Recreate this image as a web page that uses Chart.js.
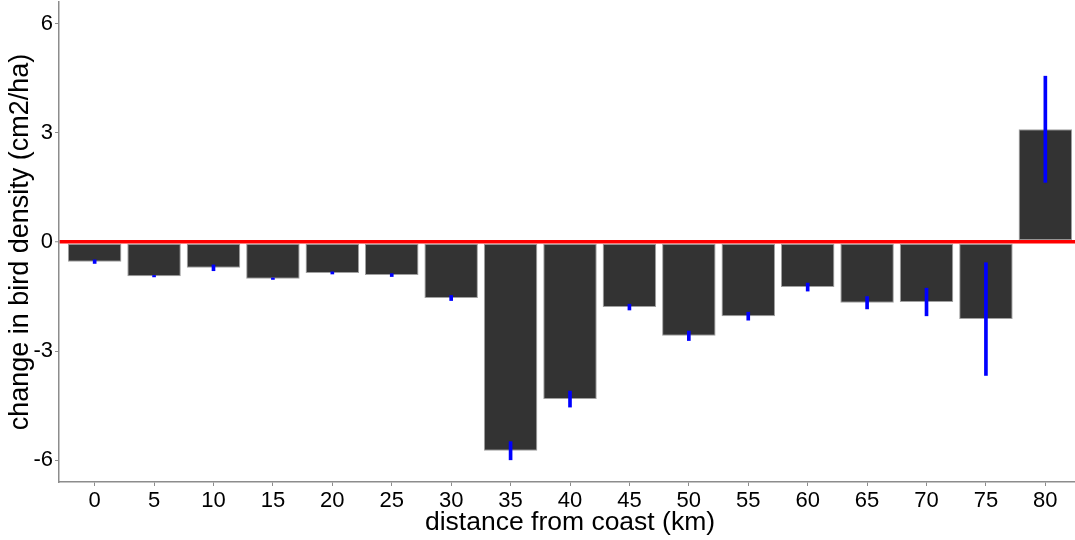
<!DOCTYPE html>
<html>
<head>
<meta charset="utf-8">
<script src="https://cdn.jsdelivr.net/npm/chart.js@4"></script>
<style>
  body { margin: 0; background: #fff; }
  #wrap { width: 1075px; height: 540px; overflow: hidden; }
</style>
</head>
<body>
<div id="wrap"><canvas id="birdChart" width="1081" height="540"></canvas></div>
<script>
// distance from coast (km) and mean change with its error
let distances = [0, 5, 10, 15, 20, 25, 30, 35, 40, 45, 50, 55, 60, 65, 70, 75, 80];
let change = [-0.54, -0.94, -0.71, -1.01, -0.85, -0.91, -1.54, -5.74, -4.32, -1.79, -2.58, -2.04, -1.24, -1.67, -1.65, -2.12, 3.10];
let errSize = [0.05, 0.02, 0.08, 0.02, 0.03, 0.04, 0.07, 0.25, 0.22, 0.08, 0.13, 0.11, 0.11, 0.17, 0.38, 1.55, 1.46];
let yTicks = [-6, -3, 0, 3, 6];

let barData = distances.map((d, i) => ({ x: d, y: change[i] }));
let errData = distances.map((d, i) => ({ x: d, y: [change[i] - errSize[i], change[i] + errSize[i]] }));

const ctx = document.getElementById("birdChart");

new Chart(ctx, {
  type: "bar",
  data: {
    datasets: [
      {
        label: "error",
        data: errData,
        backgroundColor: "#0000ff",
        barThickness: 3,
        grouped: false,
        order: 0,
      },
      {
        label: "change",
        data: barData,
        backgroundColor: "#333333",
        borderColor: "#a0a0a0",
        borderWidth: 1,
        borderSkipped: false,
        categoryPercentage: 1,
        barPercentage: 0.9,
        grouped: false,
        order: 1,
      },
    ],
  },
  options: {
    responsive: false,
    animation: false,
    devicePixelRatio: 1,
    layout: { padding: { top: 2 } },
    plugins: {
      legend: { display: false },
      tooltip: { enabled: false },
    },
    scales: {
      x: {
        type: "linear",
        offset: false,
        min: distances[0] - 3,
        max: distances[distances.length - 1] + 3,
        afterFit: (scale) => {
          scale.height = 58;
          scale.paddingLeft = 0;
          scale.paddingRight = 0;
        },
        ticks: {
          stepSize: 5,
          includeBounds: false,
          color: "#000",
          padding: 2,
          font: { family: "Liberation Sans, Arial, sans-serif", size: 22 },
        },
        grid: {
          offset: false,
          drawOnChartArea: false,
          tickColor: "#8c8c8c",
          tickLength: 4,
        },
        border: { color: "#8c8c8c", width: 1.5 },
        title: {
          display: true,
          text: "distance from coast (km)",
          color: "#000",
          padding: { top: 0, bottom: 1 },
          font: { family: "Liberation Sans, Arial, sans-serif", size: 26.5 },
        },
      },
      y: {
        min: -6.6,
        max: 6.6,
        afterFit: (scale) => {
          scale.width = 59;
          scale.paddingTop = 0;
          scale.paddingBottom = 0;
        },
        afterBuildTicks: (scale) => { scale.ticks = yTicks.map((v) => ({ value: v })); },
        ticks: {
          color: "#000",
          padding: 2,
          font: { family: "Liberation Sans, Arial, sans-serif", size: 22 },
        },
        grid: {
          z: 1,
          color: (c) => (c.tick && c.tick.value === 0 ? "#ff0000" : "rgba(0,0,0,0)"),
          lineWidth: (c) => (c.tick && c.tick.value === 0 ? 3.5 : 1),
          tickColor: "#8c8c8c",
          tickWidth: 1,
          tickLength: 4,
        },
        border: { color: "#8c8c8c", width: 1.5, z: 1 },
        title: {
          display: true,
          text: "change in bird density (cm2/ha)",
          color: "#000",
          padding: { top: 4, bottom: 0 },
          font: { family: "Liberation Sans, Arial, sans-serif", size: 27 },
        },
      },
    },
  },
});
</script>
</body>
</html>
